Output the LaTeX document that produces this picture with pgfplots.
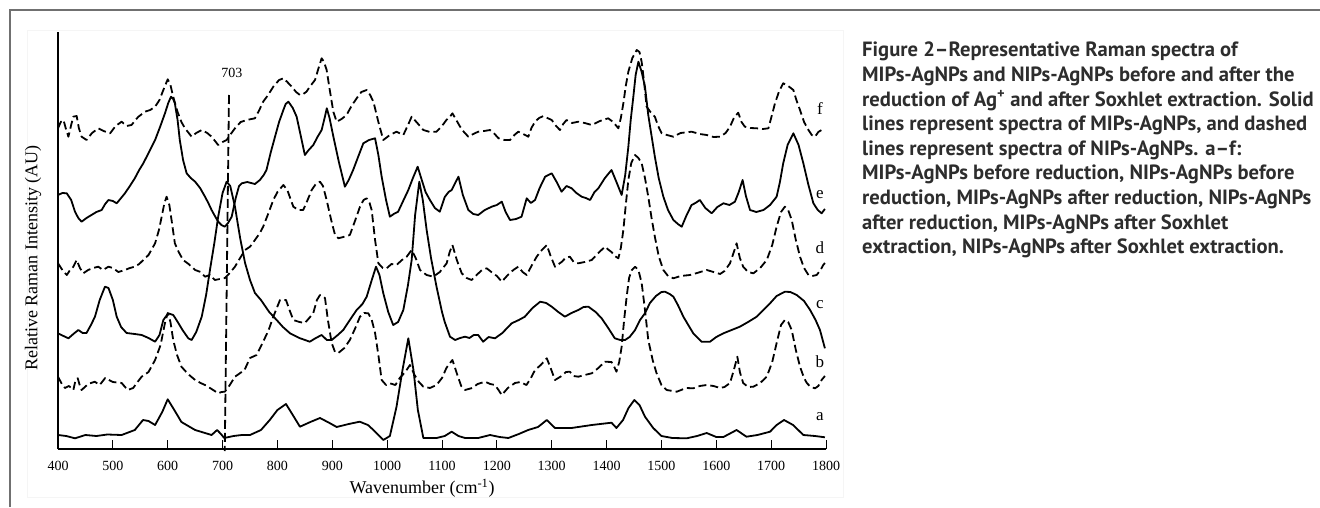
\documentclass[border=0pt]{standalone}
\usepackage{pgfplots}
\pgfplotsset{compat=1.18}
\usepackage{pgfplotstable}
\usepackage{fontspec}
\setmainfont{Liberation Serif}
\newfontfamily\capfont{PT Sans}
\definecolor{framegray}{RGB}{112,112,112}
\definecolor{captxt}{RGB}{45,45,45}

% columns: wavenumber, pixel row (measured from top of image)
\pgfplotstableread{
400 435
415 436
431 438.3
450 435
470 436
490 434.5
516 435
540 430
555 420
565 421
577 425
590 412
600 399.3
612 410
625 422
650 430
680 435
690 430
697 434
703 438
720 436
735 435
750 435
770 430
786 420
800 410
815.6 404
828 415
841 426.7
860 422
877.6 418
895 423
908 427
930 424
950 421.7
965 425
975 430
993 440
1005 436
1017 407
1028 370
1038.6 338.3
1048 370
1056 410
1066 438
1090 438
1105 436
1117.6 431.7
1130 436
1142 438
1166 438
1187.5 435
1205 437
1221 438
1240 434
1257 430
1275 427
1291 420
1306 428
1336 428
1373 425
1409 422.7
1418 428
1430 420
1440 408
1450.6 400
1460 405
1470 416.7
1485 428
1500 436
1520 438
1546 438.3
1565 436
1582.5 433
1600 437
1613 437
1637 430
1655 436.7
1675 435
1698 431.7
1710 425
1723.5 420
1740 425
1758.7 435
1780 436
1798 437.3
}\specA

\pgfplotstableread{
400 376.7
407 384
412.7 388
420 386
428 390
432 380
436 378.3
440 386
443 390
455 384
467 381.7
476 385
486 378
500 382
516 383
527 390
537 388
545 382
552.5 376.7
565 372
577 360
587 345
595 323
600 313
605 322
610 340
617 355
625 366.7
637 374
650 380
660 383
668 385
680 389
692 393.3
698 392
704 391.7
712 386
722.6 376.7
740 370
750 358
762 355
774 341.7
784 330
792.5 316.7
804.7 300
815.6 300
822 310
829 320
840 322
850 323
858 318
865.4 313
872 300
877.6 295
886.7 298
892 320
898.9 343
905 352
911 353
922 348
932 340
942 328
950.5 316.7
958 313
965.7 313.3
972 320
978 333
984 355
990 380
998 385
1005 383.3
1015 385
1023 378
1033 372
1041.6 365
1050 375
1058 382
1066 386.7
1078 388
1090 385
1100 378
1108 368
1114.6 363
1119 360
1128 375
1135 386
1142 390
1155 388
1165 384
1178.4 381.7
1188 384
1196.6 385
1203 390
1209 395
1220 388
1233 383
1243 382
1254 385
1262 378
1269.6 370
1280 365
1291 358.3
1298 368
1306 380
1318 376
1326 372
1333 371.7
1340 376
1348.5 376.7
1360 375
1373 373.3
1385 368
1397 361.7
1409 362
1415 368
1418 371.7
1423 362
1427.5 346.7
1432 320
1436.6 296.7
1441 278
1446 270
1452 266.7
1458 270
1464 283
1470 310
1476 340
1484 360
1491 373
1500 385
1509.6 390
1528 391.7
1545 388
1558 388.3
1570 386
1582.5 385
1595 386
1607 388
1615 387
1625 383
1632 370
1638.4 356.7
1643 372
1649 383
1658 387
1667.6 386.7
1680 383
1692 376.7
1702 362
1710 343
1718 325
1725 320
1731 322
1737.5 330
1745 350
1752.6 366.7
1760 378
1765 383
1772 387
1780 388.3
1786 386
1792 380
1798 376
}\specB

\pgfplotstableread{
400 333.3
410 336
419 338.3
428 334
437 330
445 333
452 333
460 325
467.4 316.7
476 300
485.6 286.7
492 288
500 300
507 316.7
515 327
525 333
540 334
552.5 335
565 338
577 341.7
585 335
592 320
601 313.3
610 315
616 320
627 330
637.5 338.3
643.6 340
652 332
662 316.7
670 295
677 270
685 243
692 216.7
700 193
707.4 181.7
714 186
722.6 206.7
732 238
741 263
750 280
759 293
770 300
785 312
798.6 320
810 327
823 333.3
840 338
859 341.7
870 338
880.6 335
890 340
899 340
910 335
920 330
932 320
944.4 310
955 304
962.7 296.7
972 280
979.7 266.7
986 275
993 293.3
1002 312
1011 325
1020 322
1029.5 310
1038 285
1044.7 260
1051 215
1058.6 181.7
1065 200
1072 230
1080 258
1090 286.7
1100 312
1105 322
1114.6 336.7
1124 340
1133 338
1142 336.7
1150 338
1158 335
1166 335
1175 341.7
1185 337
1196.6 338.3
1210 333
1227 323.3
1240 320
1251 316.7
1265 308
1279 301.7
1290 303
1300 306.7
1312 312
1324 316.7
1336 313
1348.5 310
1358 307
1367 306.7
1380 312
1391 318.3
1403 328
1415 338.3
1425 340
1433.6 340
1442 337
1452 330
1461 320
1470 313.3
1479 303
1490 296
1500 292
1506.6 291.7
1515 294
1521.8 296.7
1530 305
1540 316.7
1550 326
1558 333.3
1573 341.7
1588.6 341.7
1600 337
1613 333.3
1628 330
1643 326.7
1658 322
1673.7 316.7
1686 310
1698 303.3
1710 296
1725 291.7
1735 292
1746.6 295
1760 301
1771 310
1781 320
1789 330
1798 348.3
}\specC

\pgfplotstableread{
400 263.3
408 270
416 275
422 270
428 266.7
434 260
440 268
446 273.3
455 270
464 268
473.5 266.7
482 270
492 266.7
500 268
510 272
522 270
531 268
540 266.7
548 264
555.5 260
565 255
577 243.3
584 230
589 216.7
594 203
598 196.7
603 205
607 220
613 243.3
620 252
628 260
638 264
650 270
660 272
668 276.7
677 275
686 280
695 279
704.4 278
713 273
722.6 266.7
732 258
741 250
750 246.7
759 240
768 233
774 226.7
783 214
792.5 200
800 192
810.8 185
818 190
829 206.7
838 210
847 210
855 200
862.4 190
870 184
877.6 181.7
883 186
889.7 200
898 220
905 235
911 238.3
920 237
932 235
942 220
950.5 206.7
957 200
962.7 198.3
968 203
971.8 210
978 240
984 263.3
992 268
999 268.3
1008 264
1017 265
1027 260
1035.6 256.7
1044.7 250
1052 258
1060 270
1072 275
1084 276.7
1096 272
1108.5 263.3
1114 252
1119 245
1127 260
1136 273.3
1145 278
1154 280
1165 274
1173 270
1181.5 268.3
1190 272
1200 276
1209 281.7
1220 275
1230 270
1239 266.7
1247 272
1254.4 275
1263 266
1272.6 256.7
1282 250
1291 245
1298 256
1306 266.7
1318 262
1325 258
1333 256.7
1340 262
1348.5 263.3
1360 262
1373 260
1385 253
1397 246.7
1404 250
1409 252
1415 256
1421.5 258.3
1426 248
1430.6 230
1435 205
1439.7 180
1445 163
1452 155
1458 158
1464 163.3
1470 178
1476 196.7
1482 218
1488 236.7
1495 256
1503.5 270
1512 276
1521.8 278.3
1535 276
1552 275
1565 273
1582.5 270
1595 272
1607 274
1615 271
1625 263.3
1632 252
1637 243.3
1643 258
1649 266.7
1658 272
1667.6 273.3
1680 268
1692 260
1702 245
1710 226.7
1718 212
1725 206.7
1731 210
1737.5 220
1745 240
1752.6 256.7
1760 268
1768 275
1775 276
1783 275
1790 270
1795 265
1798 263
}\specD

\pgfplotstableread{
400 195
408 193
416 193.3
424 200
431 211.7
437 218
443 221.7
452 218
461 215
470 212
479.6 210
486 204
492 200
500 201
507 203.3
515 198
522 193.3
531 186
540 178.3
548 170
555.5 163.3
566 152
577 140
586 127
595 113.3
601 103
606 96.7
610 99
613 103.3
618 120
622 140
628 160
634.5 173.3
642 178
650 181.7
659 188
668 196.7
674 203
680 210
686 216
692 221.7
698 225
704 226.7
710 223
716.6 216.7
724 198
730 186
735 183.3
745 182
759 184
768 180
775 175
780 170
788 152
795.6 136.7
803 122
810.8 110
815 104
820 101.7
828 108
835 116.7
843 137
850 155
857 150
865.4 145
873 137
880.6 130
886 118
890 108.3
895 118
902 136.7
912 162
923 186.7
930 180
938 170
947 157
956.6 143.3
967 140
978 138.3
984 155
990 176.7
998 200
1005 216.7
1012 214
1020 211.7
1030 200
1038.6 190
1047 178
1055.6 166.7
1062 178
1070 192
1078 200
1087 208
1096 211.7
1105 197
1112 192
1117.6 190
1124 183
1130 176.7
1138 195
1148 210
1157 214
1166 215
1178 210
1190.6 206.7
1200 205
1209 201.7
1216 212
1224 220
1235 219
1245 216.7
1254.4 198.3
1262 203
1269.6 200
1278 188
1288 176.7
1300 173.3
1309 182
1318 191.7
1327 186
1336.4 188.3
1345 193
1354.6 196.7
1362 198
1370 200
1378 192
1385 188.3
1397 178
1409 170
1418 182
1427.5 195
1434 175
1439.7 146.7
1444 120
1448.8 96.7
1453 75
1458 61.7
1464 72
1470 86.7
1476 115
1488 156.7
1495 178
1503.5 196.7
1512 210
1521.8 220
1530 224
1537 226.7
1546 215
1555 205
1562 203
1570 200
1580 208
1591.6 213.3
1602 207
1613 203.3
1624 205
1634 201.7
1641 192
1648 180
1654 196
1661.5 210
1673 212
1686 210
1698 205
1710 196.7
1716 182
1722 163.3
1730 145
1740.5 133.3
1750 145
1758.7 163.3
1768 185
1777 203.3
1785 210
1792 213.3
1798 209
}\specE

\pgfplotstableread{
400 128.3
405 122
410 120
415 130
419 136.7
424 125
428 116.7
434 116
438 128
443 136.7
452 140
462 133
473.5 128.3
483 131
495 133.3
505 126
516 121.7
525 126
534 125
546 117
558.5 111.7
568 110
577 106.7
585 100
592 90
600 79.3
605 85
610 96.7
618 112
625 122
631.5 128.3
643.6 136.7
652 133
662 130
672 133
680 136.7
692 145
700 142
707.4 140
715 134
722.6 128.3
733 122
744 120
759 118.3
767 110
774 101.7
783 95
792.5 86.7
803 80
810.8 78.3
818 82
826 86.7
834 92
841 95
847 94
853 91.7
860 86
868.5 80
875 68
880.6 58.3
885 62
889.7 70
896 92
902 112
908 121.7
917 119
926 115
935 106
944.4 98.3
953 92
962.7 90
969 95
975 101.7
984 122
993 140
1005 135
1017 131.7
1029.5 135
1038 125
1044.7 116.7
1055 123
1066 130
1078 132
1090 131.7
1100 126
1108 120
1114.6 116.7
1119 113.3
1126 120
1133 126.7
1140 132
1148 136.7
1157 134
1166 131.7
1177 131
1187.5 130
1196 134
1203 138.3
1214 140
1224 140
1232 135
1239 131.7
1248 134
1257.4 136.7
1263 128
1269.6 121.7
1277 118
1285 116
1292 118
1300 120
1308 126
1315 130
1321 124
1327 120
1337 123
1348.5 121.7
1360 123
1373 125
1388 121
1403 118.3
1412 122
1421.5 128.3
1426 118
1430.6 103.3
1435 86
1439.7 71.7
1447 58
1455 50
1460 52
1464 62
1468 80
1473 106.7
1480 112
1488 116.7
1494 126
1500.5 133.3
1510 135
1521.8 136.7
1535 133
1555 131.7
1570 134
1582.5 135
1595 137
1607 136.7
1617 133
1625 126.7
1632 118
1640 112.7
1646 122
1652 126.7
1662 128
1673.7 128.3
1685 129
1695 128.3
1701 116
1707 103.3
1714 92
1722 83.3
1731 86
1740.5 90
1746 100
1752.6 110
1760 122
1768 130
1774 135
1780 136.7
1786 132
1792 130
1798 131
}\specF

\newlength\capw
\begin{document}
\settowidth\capw{\capfont\bfseries\fontsize{10}{12}\selectfont reduction of Ag\textsuperscript{+} and after Soxhlet extraction. Solid}%
\pgfmathsetmacro\capsize{10*452/\capw}%
\begin{tikzpicture}[x=1pt,y=1pt,
  capline/.style={anchor=base west, inner sep=0pt, text=captxt,
    font=\capfont\bfseries\fontsize{\capsize}{24}\selectfont}]
\useasboundingbox (0,0) rectangle (1320,507);
% outer frame
\draw[framegray, line width=2pt] (10,0) -- (10,497) -- (1320,497);
% faint box of chart image
\draw[black!4, line width=0.8pt] (27,10) rectangle (843,477);

\begin{axis}[
  at={(58pt,58pt)}, anchor=south west,
  scale only axis, width=768pt, height=417pt,
  xmin=400, xmax=1800, ymin=0, ymax=417,
  axis x line*=bottom, axis y line*=left,
  axis line style={line width=1.2pt, black},
  xtick={400,500,...,1800}, ytick=\empty,
  tick align=inside, major tick length=9pt,
  xtick style={line width=1pt, black},
  x tick label style={font=\fontsize{14}{16}\selectfont, /pgf/number format/assume math mode=true, yshift=-8.5pt},
  /pgf/number format/1000 sep={},
  clip=false,
  every axis plot/.append style={line width=1.8pt, black, line join=round},
]
\addplot[solid] table[x index=0, y expr=449-\thisrowno{1}] {\specA};
\addplot[dash pattern=on 8pt off 4pt] table[x index=0, y expr=449-\thisrowno{1}] {\specB};
\addplot[solid] table[x index=0, y expr=449-\thisrowno{1}] {\specC};
\addplot[dash pattern=on 8pt off 4pt] table[x index=0, y expr=449-\thisrowno{1}] {\specD};
\addplot[solid] table[x index=0, y expr=449-\thisrowno{1}] {\specE};
\addplot[dash pattern=on 8pt off 4pt] table[x index=0, y expr=449-\thisrowno{1}] {\specF};
% 703 marker
\addplot[line width=1.8pt, dash pattern=on 9pt off 4pt] coordinates {(711.7,354) (704,-2)};
\node[font=\fontsize{14}{16}\selectfont] at (axis cs:717,376) {703};
% curve letters
\node[font=\fontsize{17}{19}\selectfont] at (axis cs:1789,340.7) {f};
\node[font=\fontsize{17}{19}\selectfont] at (axis cs:1789,254) {e};
\node[font=\fontsize{17}{19}\selectfont] at (axis cs:1789,201) {d};
\node[font=\fontsize{17}{19}\selectfont] at (axis cs:1789,144) {c};
\node[font=\fontsize{17}{19}\selectfont] at (axis cs:1789,87.3) {b};
\node[font=\fontsize{17}{19}\selectfont] at (axis cs:1789,32.3) {a};
\end{axis}

% axis titles
\node[rotate=90, font=\fontsize{18}{20}\selectfont] at (33,249) {Relative Raman Intensity (AU)};
\node[font=\fontsize{18}{20}\selectfont] at (422,19) {Wavenumber (cm\textsuperscript{-1})};

% caption, one node per line
\node[capline] at (862,450.0) {Figure 2–Representative Raman spectra of};
\node[capline] at (862,425.4) {MIPs-AgNPs and NIPs-AgNPs before and after the};
\node[capline] at (862,400.8) {reduction of Ag\textsuperscript{+} and after Soxhlet extraction. Solid};
\node[capline] at (862,376.2) {lines represent spectra of MIPs-AgNPs, and dashed};
\node[capline] at (862,351.6) {lines represent spectra of NIPs-AgNPs. a–f:};
\node[capline] at (862,327.0) {MIPs-AgNPs before reduction, NIPs-AgNPs before};
\node[capline] at (862,302.4) {reduction, MIPs-AgNPs after reduction, NIPs-AgNPs};
\node[capline] at (862,277.8) {after reduction, MIPs-AgNPs after Soxhlet};
\node[capline] at (862,253.2) {extraction, NIPs-AgNPs after Soxhlet extraction.};
\end{tikzpicture}
\end{document}
